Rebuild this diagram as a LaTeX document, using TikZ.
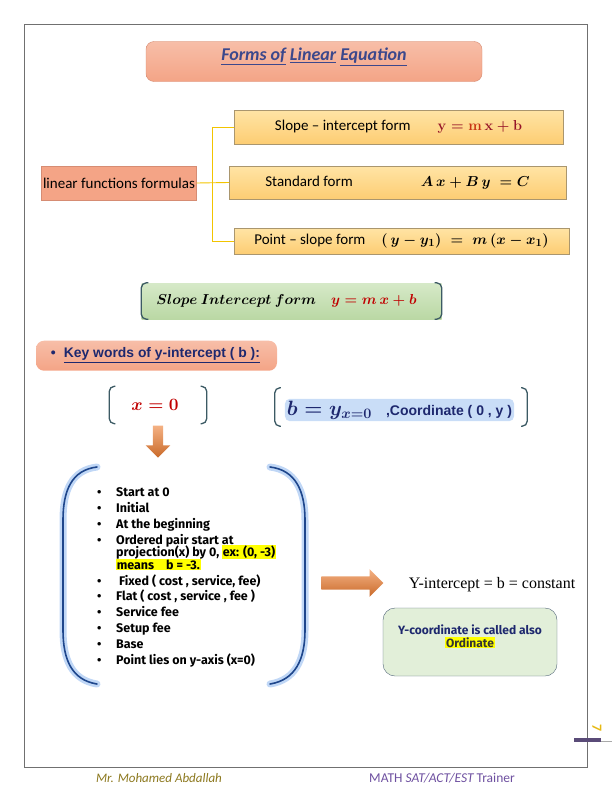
\documentclass[tikz,border=0pt]{standalone}
\usepackage{amsmath,amssymb}
\usepackage{fontspec}
\setmainfont{Carlito}
\newfontfamily\arialfont{Liberation Sans}
\newfontfamily\timesfont{Liberation Serif}
\newfontfamily\listfont{Fira Sans}
\usepackage{tikz}
\usetikzlibrary{arrows.meta,positioning,calc,shapes.arrows}
\usepackage{xcolor}
\definecolor{framegray}{RGB}{112,112,112}
\definecolor{salmontop}{RGB}{247,190,168}
\definecolor{salmonbot}{RGB}{244,164,134}
\definecolor{salmonedge}{RGB}{214,140,115}
\definecolor{titleblue}{RGB}{60,72,140}
\definecolor{goldtop}{RGB}{255,228,165}
\definecolor{goldbot}{RGB}{253,205,115}
\definecolor{goldedge}{RGB}{170,150,110}
\definecolor{treegold}{RGB}{242,196,0}
\definecolor{formred}{RGB}{150,20,40}
\definecolor{mred}{RGB}{200,50,20}
\definecolor{greentop}{RGB}{214,233,200}
\definecolor{greenbot}{RGB}{186,216,164}
\definecolor{brkteal}{RGB}{60,90,100}
\definecolor{keynavy}{RGB}{30,40,110}
\definecolor{xred}{RGB}{192,0,0}
\definecolor{glowblue}{RGB}{165,198,242}
\definecolor{parenblue}{RGB}{30,70,140}
\definecolor{arroworange}{RGB}{237,125,49}
\definecolor{notegreen}{RGB}{226,239,217}
\definecolor{noteedge}{RGB}{80,100,120}
\definecolor{hlyellow}{RGB}{255,255,0}
\definecolor{footgold}{RGB}{140,120,30}
\definecolor{footpurple}{RGB}{110,80,160}
\definecolor{barpurple}{RGB}{90,75,120}
\definecolor{pagegold}{RGB}{230,185,20}
\newcommand{\hlt}[1]{\smash{\setlength{\fboxsep}{0.6pt}\colorbox{hlyellow}{#1}}}
\newcommand{\keyitem}[1]{\textbullet & \smash{#1}}

\begin{document}
\begin{tikzpicture}[x=1pt,y=-1pt,
    salmonbox/.style={draw=salmonedge,top color=salmontop,bottom color=salmonbot,rounded corners=8pt},
    formbox/.style={draw=goldedge,top color=goldtop,bottom color=goldbot,font=\fontsize{15}{17}\selectfont},
    treeline/.style={draw=treegold,line width=0.9pt},
    brk/.style={draw=brkteal,line width=1.3pt,rounded corners=5pt},
    glow/.style={draw=glowblue,line width=7pt,line cap=round,opacity=0.7},
    paren/.style={draw=parenblue,line width=1.6pt,line cap=round},
    blockarrow/.style={single arrow,draw=none,top color=arroworange!60,bottom color=arroworange!85!black,inner xsep=0pt}]
    \useasboundingbox (0,0) rectangle (612,792);
    \draw[framegray,line width=0.8pt] (24,24) rectangle (587,767);
    % title
    \node[salmonbox,minimum width=336pt,minimum height=40pt] (title) at (314,61.5) {};
    \node[font=\fontsize{18}{20}\selectfont\bfseries\itshape,text=titleblue] (titletext) at (314,57) {\underline{Forms of} \underline{Linear} \underline{Equation}};
    % forms tree
    \node[draw=salmonedge,fill=salmonbot,minimum width=155pt,minimum height=34pt,inner sep=1pt,font=\fontsize{15}{17}\selectfont] (lf) at (119,183) {linear functions formulas};
    \node[formbox,minimum width=329pt,minimum height=34pt] (slope) at (398.5,127) {Slope -- intercept form\hspace{27pt}{\boldmath$\color{formred}\mathbf{y} = {\color{mred}\mathbf{m}}\,\mathbf{x} + \mathbf{b}$}};
    \node[formbox,minimum width=337pt,minimum height=33pt] (standard) at (397.5,182.5) {Standard form\hspace{68pt}{\boldmath$A\,x + B\,y\; = C$}};
    \node[formbox,minimum width=335pt,minimum height=26pt] (point) at (401.5,241) {Point -- slope form\hspace{16pt}{\boldmath$(\,y - y_1)\; = \;m\,(x - x_1)$}};
    \draw[treeline] (lf.east) -- (standard.west);
    \draw[treeline] (slope.west) -- ++(-21,0) |- (point.west);
    % slope intercept box
    \node[draw=none,top color=greentop,bottom color=greenbot,minimum width=300pt,minimum height=36pt,font=\fontsize{15}{17}\selectfont] (sif) at (291.5,301) {{\boldmath$Slope\ Intercept\ form\quad{\color{xred}y = m\,x + b}$}\hspace*{10pt}};
    \draw[brk] ([xshift=7pt]sif.north west) -| (sif.south west) -- ([xshift=7pt]sif.south west);
    \draw[brk] ([xshift=-7pt]sif.north east) -| (sif.south east) -- ([xshift=-7pt]sif.south east);
    % key words
    \node[salmonbox,draw=none,minimum width=241pt,minimum height=30pt,font=\arialfont\bfseries\fontsize{13.9}{16}\selectfont,text=keynavy] (keywords) at (156.5,355.7) {\textbullet\hspace{8pt}\underline{Key words of y-intercept ( b ):}\hspace*{2pt}};
    \node[minimum width=97pt,minimum height=37pt,font=\fontsize{16}{18}\selectfont] (xzero) at (158,405) {{\boldmath$\color{xred}x = 0$}\hspace*{6pt}};
    \draw[brk] ([xshift=6pt]xzero.north west) -| (xzero.south west) -- ([xshift=6pt]xzero.south west);
    \draw[brk] ([xshift=-6pt]xzero.north east) -| (xzero.south east) -- ([xshift=-6pt]xzero.south east);
    \node[minimum width=252pt,minimum height=38pt] (bframe) at (401,407) {};
    \draw[brk] ([xshift=6pt]bframe.north west) -| (bframe.south west) -- ([xshift=6pt]bframe.south west);
    \draw[brk] ([xshift=-6pt]bframe.north east) -| (bframe.south east) -- ([xshift=-6pt]bframe.south east);
    \node[fill=glowblue,fill opacity=0.6,text opacity=1,rounded corners=5pt,inner sep=2pt,text=keynavy,font=\fontsize{20}{22}\selectfont] (bcoord) at (399.5,410) {{\boldmath$b = y_{x=0}$}\hspace{14pt}{\arialfont\bfseries\fontsize{14}{16}\selectfont ,Coordinate ( 0 , y )}};
    \node[blockarrow,rotate=-90,inner ysep=5pt,minimum height=32pt,minimum width=24pt] (down) at (158,439) {};
    % key word list
    \draw[glow] (97,467) .. controls (72,470) and (63,490) .. (63,520) -- (63,630) .. controls (63,660) and (72,680) .. (97,684);
    \draw[paren] (97,467) .. controls (72,470) and (63,490) .. (63,520) -- (63,630) .. controls (63,660) and (72,680) .. (97,684);
    \draw[glow] (270,467) .. controls (295,470) and (305,490) .. (305,520) -- (305,630) .. controls (305,660) and (295,680) .. (270,684);
    \draw[paren] (270,467) .. controls (295,470) and (305,490) .. (305,520) -- (305,630) .. controls (305,660) and (295,680) .. (270,684);
    \node[anchor=north west,inner sep=0pt,font=\listfont\bfseries\fontsize{12.5}{12.5}\selectfont] (keys) at (97,487.5) {%
        \begin{tabular}{@{}p{8pt}@{\hspace{11pt}}l@{}}
        \keyitem{Start at 0}\\[3.4pt]
        \keyitem{Initial}\\[3.4pt]
        \keyitem{At the beginning}\\[3.4pt]
        \keyitem{Ordered pair start at}\\
         & \smash{projection(x) by 0, \hlt{ex: (0, -3)}}\\
         & \hlt{means\hspace{12pt}b = -3.}\\[3.4pt]
        \keyitem{\hspace{3pt}Fixed ( cost , service, fee)}\\[3.4pt]
        \keyitem{Flat ( cost , service , fee )}\\[3.4pt]
        \keyitem{Service fee}\\[3.4pt]
        \keyitem{Setup fee}\\[3.4pt]
        \keyitem{Base}\\[3.4pt]
        \keyitem{Point lies on y-axis (x=0)}
        \end{tabular}};
    \node[blockarrow,inner ysep=6.5pt,minimum height=62pt,minimum width=24pt] (rarrow) at (349,583) {};
    \node[font=\timesfont\fontsize{16}{18}\selectfont] (yint) at (492,585) {Y-intercept = b = constant};
    \node[draw=noteedge,fill=notegreen,rounded corners=12pt,minimum width=174pt,minimum height=68pt] (ordbox) at (470,642) {};
    \node[align=center,font=\listfont\bfseries\fontsize{12}{13}\selectfont,text=keynavy] (ordtext) at (470,636) {Y-coordinate is called also\\ \hlt{\color{black!80}Ordinate}};
    % footer
    \node[font=\itshape\fontsize{13}{15}\selectfont,text=footgold] (author) at (159,778) {Mr. Mohamed Abdallah};
    \node[font=\fontsize{13.5}{15}\selectfont,text=footpurple] (brand) at (442,778) {MATH \textit{SAT/ACT/EST}\,Trainer};
    \draw[barpurple,line width=3.5pt] (574,740) -- (601,740);
    \draw[framegray!60,line width=0.5pt] (601,741) -- (612,741);
    \node[rotate=-90,text=pagegold,font=\bfseries\fontsize{14}{16}\selectfont] (pagenum) at (597,728) {7};
\end{tikzpicture}
\end{document}
